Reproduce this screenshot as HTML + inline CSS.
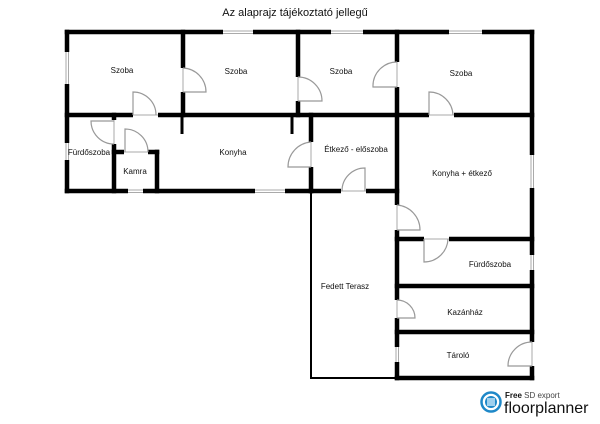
<!DOCTYPE html>
<html><head><meta charset="utf-8"><style>
html,body{margin:0;padding:0;background:#fff;width:600px;height:424px;overflow:hidden}
svg{display:block}
text{font-family:"Liberation Sans",sans-serif;fill:#111}
</style></head><body>
<svg width="600" height="424" viewBox="0 0 600 424" xmlns="http://www.w3.org/2000/svg">
<text x="295" y="16" font-size="11" text-anchor="middle">Az alaprajz tájékoztató jellegű</text>
<!-- thin terrace lines -->
<g stroke="#000" stroke-width="2" fill="none">
<line x1="311" y1="190" x2="311" y2="379"/>
<line x1="310" y1="378" x2="398" y2="378"/>
</g>
<!-- walls -->
<g stroke="#000" stroke-width="4.5" stroke-linecap="square" fill="none">
<line x1="67" y1="32" x2="532" y2="32"/>
<line x1="67" y1="32" x2="67" y2="191"/>
<line x1="532" y1="32" x2="532" y2="378"/>
<line x1="67" y1="115" x2="532" y2="115"/>
<line x1="67" y1="191" x2="311" y2="191"/>
<line x1="311" y1="191" x2="397" y2="191"/>
<line x1="183" y1="32" x2="183" y2="115"/>
<line x1="298" y1="32" x2="298" y2="115"/>
<line x1="397" y1="32" x2="397" y2="378"/>
<line x1="311" y1="115" x2="311" y2="191"/>
<line x1="114" y1="115" x2="114" y2="191"/>
<line x1="114" y1="152" x2="157" y2="152"/>
<line x1="157" y1="152" x2="157" y2="191"/>
<line x1="397" y1="239" x2="532" y2="239"/>
<line x1="397" y1="286" x2="532" y2="286"/>
<line x1="397" y1="332" x2="532" y2="332"/>
<line x1="397" y1="378" x2="532" y2="378"/>
</g>
<g stroke="#000" stroke-width="3">
<line x1="182" y1="115" x2="182" y2="134"/>
<line x1="292" y1="115" x2="292" y2="134"/>
</g>
<!-- openings (white gaps) -->
<g fill="#fff">
<rect x="223" y="29" width="30" height="7"/>
<rect x="331" y="29" width="32" height="7"/>
<rect x="449" y="29" width="33" height="7"/>
<rect x="64" y="52" width="7" height="32"/>
<rect x="64" y="143" width="7" height="17"/>
<rect x="128" y="188" width="15" height="7"/>
<rect x="255" y="188" width="30" height="7"/>
<rect x="529" y="155" width="7" height="33"/>
<rect x="529" y="255" width="7" height="15"/>
<rect x="394" y="347" width="7" height="15"/>
<!-- door gaps -->
<rect x="133" y="112" width="25" height="7"/>
<rect x="180" y="68" width="7" height="24"/>
<rect x="295" y="77" width="7" height="24"/>
<rect x="394" y="62" width="7" height="25"/>
<rect x="429" y="112" width="25" height="7"/>
<rect x="111" y="120" width="7" height="24"/>
<rect x="124" y="149" width="24" height="7"/>
<rect x="308" y="142" width="7" height="25"/>
<rect x="341" y="188" width="25" height="7"/>
<rect x="394" y="205" width="7" height="25"/>
<rect x="424" y="236" width="25" height="7"/>
<rect x="394" y="300" width="7" height="18"/>
<rect x="529" y="342" width="7" height="24"/>
</g>
<!-- windows -->
<g stroke="#aaa" stroke-width="1" fill="none">
<path d="M223 31H253M223 33.5H253M331 31H363M331 33.5H363M449 31H482M449 33.5H482"/>
<path d="M66 52V84M68.5 52V84M66 143V160M68.5 143V160"/>
<path d="M128 190H143M128 192.5H143M255 190H285M255 192.5H285"/>
<path d="M531 155V188M533.5 155V188M531 255V270M533.5 255V270M396 347V362M398.5 347V362"/>
<!-- door sill lines -->
<path d="M133 115H158M183 68V92M298 77V101M397 62V87M429 115H454M114 120V144M124 152H148M311 142V167M341 191H366M397 205V230M424 239H449M397 300V318M532 342V366"/>
</g>
<!-- door leaves and arcs -->
<g stroke="#999" stroke-width="1.2" fill="none">
<path d="M133 115V92A23 23 0 0 1 156 115"/>
<path d="M183 92H206A24 24 0 0 0 183 68"/>
<path d="M298 101H322A24 24 0 0 0 298 77"/>
<path d="M397 87H373A24 24 0 0 1 397 62"/>
<path d="M429 115V92A24 24 0 0 1 453 115"/>
<path d="M114 121H91A23 23 0 0 0 114 144"/>
<path d="M125 152V129A23 23 0 0 1 148 152"/>
<path d="M311 167H288A25 25 0 0 1 311 142"/>
<path d="M365 191V168A23 23 0 0 0 342 191"/>
<path d="M397 230H420A25 25 0 0 0 397 205"/>
<path d="M424 239V262A24 24 0 0 0 448 239"/>
<path d="M397 318H415A18 18 0 0 0 397 300"/>
<path d="M532 366H508A24 24 0 0 1 532 342"/>
</g>
<g font-size="8" text-anchor="middle">
<text x="122" y="73">Szoba</text>
<text x="236" y="74">Szoba</text>
<text x="341" y="74">Szoba</text>
<text x="461" y="76">Szoba</text>
<text x="89" y="155">Fürdőszoba</text>
<text x="135" y="174">Kamra</text>
<text x="233" y="155">Konyha</text>
<text x="356" y="152">Étkező - előszoba</text>
<text x="462" y="176">Konyha + étkező</text>
<text x="490" y="267">Fürdőszoba</text>
<text x="465" y="315">Kazánház</text>
<text x="458" y="358">Tároló</text>
<text x="345" y="289">Fedett Terasz</text>
</g>
<!-- logo -->
<circle cx="491" cy="402" r="9.5" fill="#fff" stroke="#1e88c8" stroke-width="2.5"/>
<circle cx="491" cy="402" r="6" fill="#1e88c8"/>
<rect x="487" y="398" width="8" height="8" fill="#9fd0ee"/>
<text x="505" y="398" font-size="8" font-weight="bold">Free <tspan font-weight="normal" fill="#444">SD export</tspan></text>
<text x="504" y="413" font-size="16" fill="#222">floorplanner</text>
</svg>
</body></html>
